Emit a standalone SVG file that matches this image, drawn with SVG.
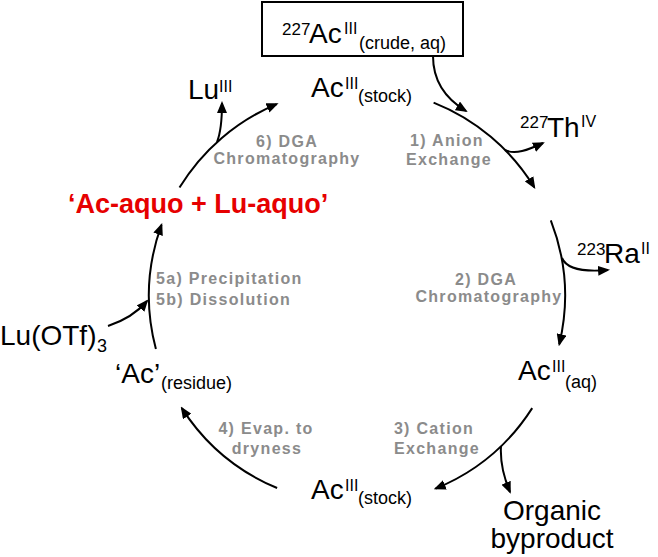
<svg xmlns="http://www.w3.org/2000/svg" width="658" height="557" viewBox="0 0 658 557">
<defs>
<marker id="ah" viewBox="0 0 12 10" markerWidth="12" markerHeight="10" markerUnits="userSpaceOnUse" refX="10" refY="5" orient="auto">
<path d="M0,0 L12,5 L0,10 z" fill="#000"/>
</marker>
<style>
text{font-family:"Liberation Sans",Arial,sans-serif;fill:#000}
.m{font-size:28px}
.sp{font-size:16px}
.sb{font-size:18px}
.n{font-size:17px}
.g{font-size:16px;font-weight:bold;fill:#8b8b8b;letter-spacing:1.3px}
.c{text-anchor:middle}
.red{font-size:27px;font-weight:bold;fill:#e60000}
.ln{fill:none;stroke:#000;stroke-width:2;marker-end:url(#ah)}
</style>
</defs>
<rect width="658" height="557" fill="#fff"/>

<g id="connectors">
<path class="ln" d="M433,56 C433,82 446,99 466,111"/>
<path class="ln" d="M433.6,102.6 A208,208 0 0 1 534.3,187.3"/>
<path class="ln" d="M505,150 C515,155 528,150 543,143"/>
<path class="ln" d="M550.8,220.4 A208,208 0 0 1 559.3,344.2"/>
<path class="ln" d="M562,258 C567,270 585,272 608,270"/>
<path class="ln" d="M532.2,408.1 A208,208 0 0 1 435.6,488.6"/>
<path class="ln" d="M501,446 C500,462 504,478 510,492"/>
<path class="ln" d="M277.1,488 A208,208 0 0 1 181.8,408.1"/>
<path class="ln" d="M155.9,349.1 A208,208 0 0 1 161.5,224.9"/>
<path class="ln" d="M108,326 C123,321 136,314 147,301"/>
<path class="ln" d="M179.5,187.6 A208,208 0 0 1 276.7,104.1"/>
<path class="ln" d="M217,142 C221,132 222,118 222,103"/>
</g>

<g id="crude">
<rect x="262" y="2" width="201" height="54" fill="#fff" stroke="#000" stroke-width="2"/>
<text><tspan class="n" x="282" y="35">227</tspan><tspan class="m" x="309" y="43">Ac</tspan><tspan class="sp" x="344" y="34">III</tspan><tspan class="sb" x="359" y="49">(crude, aq)</tspan></text>
</g>

<g id="stock-top">
<text><tspan class="m" x="311" y="97">Ac</tspan><tspan class="sp" x="345" y="89">III</tspan><tspan class="sb" x="358" y="102">(stock)</tspan></text>
</g>

<g id="thorium">
<text><tspan class="n" x="520" y="128">227</tspan><tspan class="m" x="547" y="137">Th</tspan><tspan class="sp" x="581" y="127">IV</tspan></text>
</g>

<g id="radium">
<text><tspan class="n" x="577" y="255">223</tspan><tspan class="m" x="604" y="263">Ra</tspan><tspan class="sp" x="641" y="254">II</tspan></text>
</g>

<g id="ac-aq">
<text><tspan class="m" x="518" y="380">Ac</tspan><tspan class="sp" x="552" y="372">III</tspan><tspan class="sb" x="565" y="388">(aq)</tspan></text>
</g>

<g id="organic">
<text class="m c" x="552" y="520">Organic</text>
<text class="m c" x="552" y="548">byproduct</text>
</g>

<g id="stock-bottom">
<text><tspan class="m" x="311" y="499">Ac</tspan><tspan class="sp" x="345" y="491">III</tspan><tspan class="sb" x="358" y="504">(stock)</tspan></text>
</g>

<g id="residue">
<text><tspan class="m" x="115" y="383">‘Ac’</tspan><tspan class="sb" x="161" y="389">(residue)</tspan></text>
</g>

<g id="lutf">
<text><tspan class="m" x="0" y="345">Lu(OTf)</tspan><tspan class="sb" x="97" y="352">3</tspan></text>
</g>

<g id="aquo">
<text class="red" x="68" y="213">‘Ac-aquo + Lu-aquo’</text>
</g>

<g id="lu">
<text><tspan class="m" x="188" y="99">Lu</tspan><tspan class="sp" x="219" y="92">III</tspan></text>
</g>

<g id="step-labels">
<text class="g c" x="287" y="147">6) DGA</text>
<text class="g c" x="287" y="164">Chromatography</text>
<text class="g c" x="447" y="146">1) Anion</text>
<text class="g c" x="449" y="165">Exchange</text>
<text class="g c" x="486" y="285">2) DGA</text>
<text class="g c" x="489" y="302">Chromatography</text>
<text class="g c" x="434" y="434">3) Cation</text>
<text class="g c" x="437" y="454">Exchange</text>
<text class="g c" x="266" y="434">4) Evap. to</text>
<text class="g c" x="267" y="454">dryness</text>
<text class="g" x="156" y="284">5a) Precipitation</text>
<text class="g" x="156" y="305">5b) Dissolution</text>
</g>
</svg>
